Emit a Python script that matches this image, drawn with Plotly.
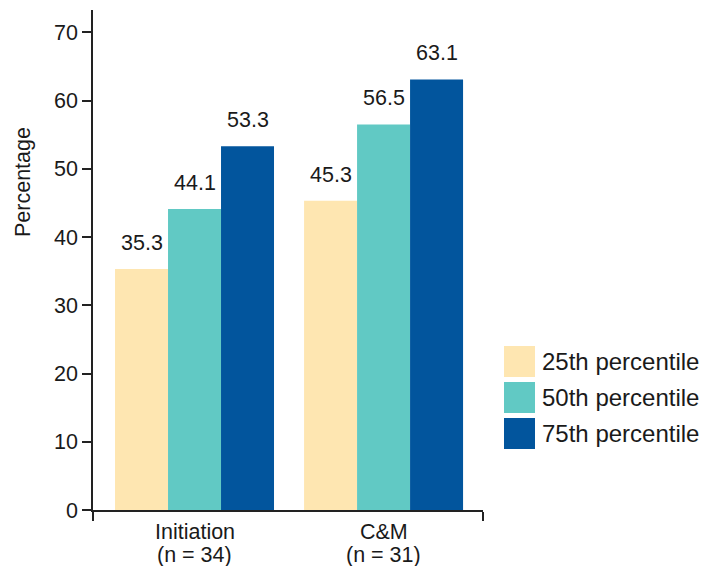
import plotly.graph_objects as go

# Percentile values of the percentage, by phase
categories = ["Initiation<br>(n = 34)", "C&M<br>(n = 31)"]
series_names = ["25th percentile", "50th percentile", "75th percentile"]
p25 = [35.3, 45.3]
p50 = [44.1, 56.5]
p75 = [53.3, 63.1]
y_ticks = [0, 10, 20, 30, 40, 50, 60, 70]

colors = ["#FEE6B1", "#61C9C4", "#02559D"]
font_family = "Liberation Sans, Arial, sans-serif"
text_color = "#1a1a1a"
axis_color = "#222"
label_size = 21.5

series = [p25, p50, p75]
x_pos = list(range(len(categories)))
bargap = 0.159
bar_w = (1 - bargap) / len(series)
x_lo, x_hi = -0.537, 1.526

# plot-area box in pixels
plot_l, plot_r, plot_t, plot_b = 93, 483, 10, 510
pw, ph = plot_r - plot_l, plot_b - plot_t


def px_x(px):
    return (px - plot_l) / pw


def px_y(py):
    return (plot_b - py) / ph


fig = go.Figure()
for name, vals, col in zip(series_names, series, colors):
    fig.add_trace(go.Bar(
        x=x_pos, y=vals, name=name,
        marker=dict(color=col, line=dict(width=0)),
        showlegend=False,
    ))

annotations = []

# value labels above each bar
for k, vals in enumerate(series):
    off = (k - (len(series) - 1) / 2) * bar_w
    for i, v in enumerate(vals):
        annotations.append(dict(
            x=i + off, y=v, xref="x", yref="y", text=f"{v:.1f}",
            showarrow=False, yanchor="bottom", yshift=12,
            font=dict(size=label_size, color=text_color, family=font_family),
        ))

# category labels below the axis (two lines each)
for i, cat in enumerate(categories):
    for j, line in enumerate(cat.split("<br>")):
        annotations.append(dict(
            x=i, y=0, xref="x", yref="y", text=line, showarrow=False,
            yanchor="top", yshift=-8 - 23 * j, height=23,
            font=dict(size=label_size, color=text_color, family=font_family),
        ))

# y-axis title
annotations.append(dict(
    x=px_x(23), y=px_y(182), xref="paper", yref="paper", text="Percentage",
    showarrow=False, textangle=-90, xanchor="center", yanchor="middle",
    font=dict(size=label_size, color=text_color, family=font_family),
))

# legend: swatches + labels
shapes = []
for k, (name, col) in enumerate(zip(series_names, colors)):
    top = 346 + 36 * k
    shapes.append(dict(
        type="rect", xref="paper", yref="paper",
        x0=px_x(504), x1=px_x(535), y0=px_y(top + 31), y1=px_y(top),
        fillcolor=col, line=dict(width=0),
    ))
    annotations.append(dict(
        x=px_x(540), y=px_y(top + 15.5), xref="paper", yref="paper",
        text=name, showarrow=False, xanchor="left", yanchor="middle",
        font=dict(size=24, color=text_color, family=font_family),
    ))

fig.update_layout(
    width=706, height=569,
    margin=dict(l=plot_l, r=706 - plot_r, t=plot_t, b=569 - plot_b, pad=0),
    paper_bgcolor="white", plot_bgcolor="white",
    barmode="group", bargap=bargap, bargroupgap=0,
    font=dict(family=font_family, size=label_size, color=text_color),
    xaxis=dict(
        range=[x_lo, x_hi], tickvals=[x_lo, x_hi], showticklabels=False,
        ticks="outside", ticklen=9, tickwidth=1.5, tickcolor=axis_color,
        showline=True, linecolor=axis_color, linewidth=1.5,
        showgrid=False, zeroline=False,
    ),
    yaxis=dict(
        range=[0, 73.27], tickvals=y_ticks,
        ticks="outside", ticklen=9, tickwidth=1.5, tickcolor=axis_color,
        showline=True, linecolor=axis_color, linewidth=1.5,
        showgrid=False, zeroline=False,
        tickfont=dict(size=label_size, color=text_color, family=font_family),
    ),
    annotations=annotations, shapes=shapes,
    showlegend=False,
)

fig.write_html("out.html")
